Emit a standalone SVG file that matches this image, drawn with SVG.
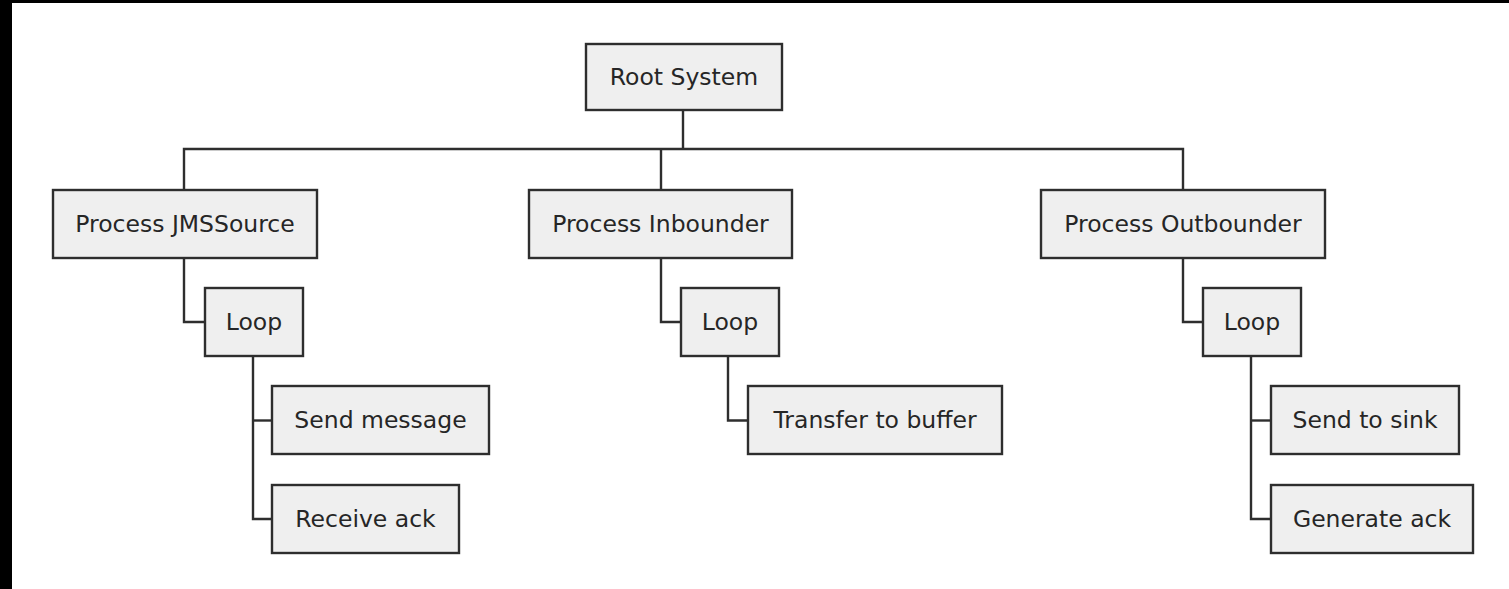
<svg xmlns="http://www.w3.org/2000/svg" width="1509" height="589" viewBox="0 0 1509 589">
<style>
.n rect{fill:#efefef;stroke:#2e2e2e;stroke-width:2.4}
.n text{font-family:"DejaVu Sans",sans-serif;font-size:23.5px;fill:#262626;text-anchor:middle;dominant-baseline:central}
.c path{fill:none;stroke:#2e2e2e;stroke-width:2.4}
</style>
<rect x="0" y="0" width="1509" height="589" fill="#fff"/>
<rect x="0" y="0" width="12" height="589" fill="#000"/>
<rect x="0" y="0" width="1509" height="3" fill="#000"/>
<g class="c" id="connectors">
<path d="M683,110 V149"/>
<path d="M184,190 V149 H1183 V190"/>
<path d="M661,149 V190"/>
<path d="M184,258 V322 H205"/>
<path d="M661,258 V322 H681"/>
<path d="M1183,258 V322 H1203"/>
<path d="M253,356 V519 H272"/>
<path d="M253,420.5 H272"/>
<path d="M728,356 V420.5 H748"/>
<path d="M1251,356 V519 H1271"/>
<path d="M1251,420.5 H1271"/>
</g>
<g class="n" id="root"><rect x="586" y="44" width="196" height="66"/><text x="684" y="77">Root System</text></g>
<g class="n" id="jms"><rect x="53" y="190" width="264" height="68"/><text x="185" y="224">Process JMSSource</text></g>
<g class="n" id="inb"><rect x="529" y="190" width="263" height="68"/><text x="660.5" y="224">Process Inbounder</text></g>
<g class="n" id="outb"><rect x="1041" y="190" width="284" height="68"/><text x="1183" y="224">Process Outbounder</text></g>
<g class="n" id="loop1"><rect x="205" y="288" width="98" height="68"/><text x="254" y="322">Loop</text></g>
<g class="n" id="loop2"><rect x="681" y="288" width="98" height="68"/><text x="730" y="322">Loop</text></g>
<g class="n" id="loop3"><rect x="1203" y="288" width="98" height="68"/><text x="1252" y="322">Loop</text></g>
<g class="n" id="sendmsg"><rect x="272" y="386" width="217" height="68"/><text x="380.5" y="420">Send message</text></g>
<g class="n" id="recvack"><rect x="272" y="485" width="187" height="68"/><text x="365.5" y="519">Receive ack</text></g>
<g class="n" id="transfer"><rect x="748" y="386" width="254" height="68"/><text x="875" y="420">Transfer to buffer</text></g>
<g class="n" id="sink"><rect x="1271" y="386" width="188" height="68"/><text x="1365" y="420">Send to sink</text></g>
<g class="n" id="genack"><rect x="1271" y="485" width="202" height="68"/><text x="1372" y="519">Generate ack</text></g>
</svg>
